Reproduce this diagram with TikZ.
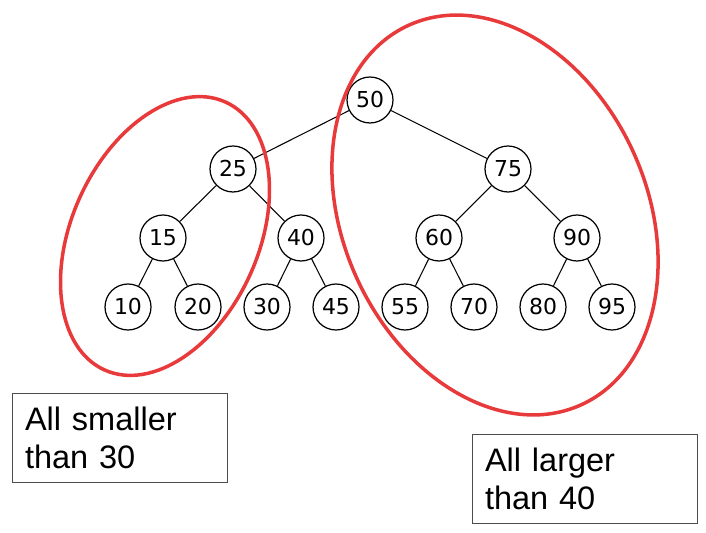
\documentclass[tikz,border=0pt]{standalone}
\usepackage{fontspec}
\setmainfont{Liberation Sans}
\newfontfamily\keyfont{DejaVu Sans}
\usepackage{tikz}
\definecolor{setred}{RGB}{232,58,58}

\begin{document}
\begin{tikzpicture}[x=0.02cm,y=-0.02cm,
    key/.style={circle,draw,line width=0.7pt,minimum size=0.92cm,inner sep=0pt,
        font=\keyfont\fontsize{12.5}{14}\selectfont},
    edge/.style={line width=0.6pt},
    group/.style={draw=setred,line width=2pt},
    note/.style={draw=black!70,line width=0.6pt,text width=3.8cm,align=left,
        minimum width=4.3cm,minimum height=1.78cm,inner sep=0.2cm,anchor=north west,
        font=\fontsize{18.5}{21.5}\selectfont}]
    \useasboundingbox (0,0) rectangle (706,533);
    \node[key] (n50) at (370,100) {50};
    \node[key] (n25) at (233,169) {25};
    \node[key] (n75) at (508,169) {75};
    \node[key] (n15) at (163,238) {15};
    \node[key] (n40) at (301,238) {40};
    \node[key] (n60) at (439,238) {60};
    \node[key] (n90) at (577,238) {90};
    \node[key] (n10) at (128,307) {10};
    \node[key] (n20) at (198,307) {20};
    \node[key] (n30) at (267,307) {30};
    \node[key] (n45) at (336,307) {45};
    \node[key] (n55) at (405,307) {55};
    \node[key] (n70) at (474,307) {70};
    \node[key] (n80) at (543,307) {80};
    \node[key] (n95) at (612,307) {95};
    \draw[edge] (n50) -- (n25);
    \draw[edge] (n50) -- (n75);
    \draw[edge] (n25) -- (n15);
    \draw[edge] (n25) -- (n40);
    \draw[edge] (n75) -- (n60);
    \draw[edge] (n75) -- (n90);
    \draw[edge] (n15) -- (n10);
    \draw[edge] (n15) -- (n20);
    \draw[edge] (n40) -- (n30);
    \draw[edge] (n40) -- (n45);
    \draw[edge] (n60) -- (n55);
    \draw[edge] (n60) -- (n70);
    \draw[edge] (n90) -- (n80);
    \draw[edge] (n90) -- (n95);
    % the two subtrees
    \draw[group,rotate around={-24.3:(165,236)}] (165,236) ellipse [x radius=1.87cm,y radius=2.94cm];
    \draw[group,rotate around={24.5:(495,215)}] (495,215) ellipse [x radius=3.04cm,y radius=4.17cm];
    \node[note] (small) at (12,393) {All smaller\\than 30};
    \node[note,minimum width=4.5cm,text width=4.0cm] (large) at (472,434) {All larger\\than 40};
\end{tikzpicture}
\end{document}
